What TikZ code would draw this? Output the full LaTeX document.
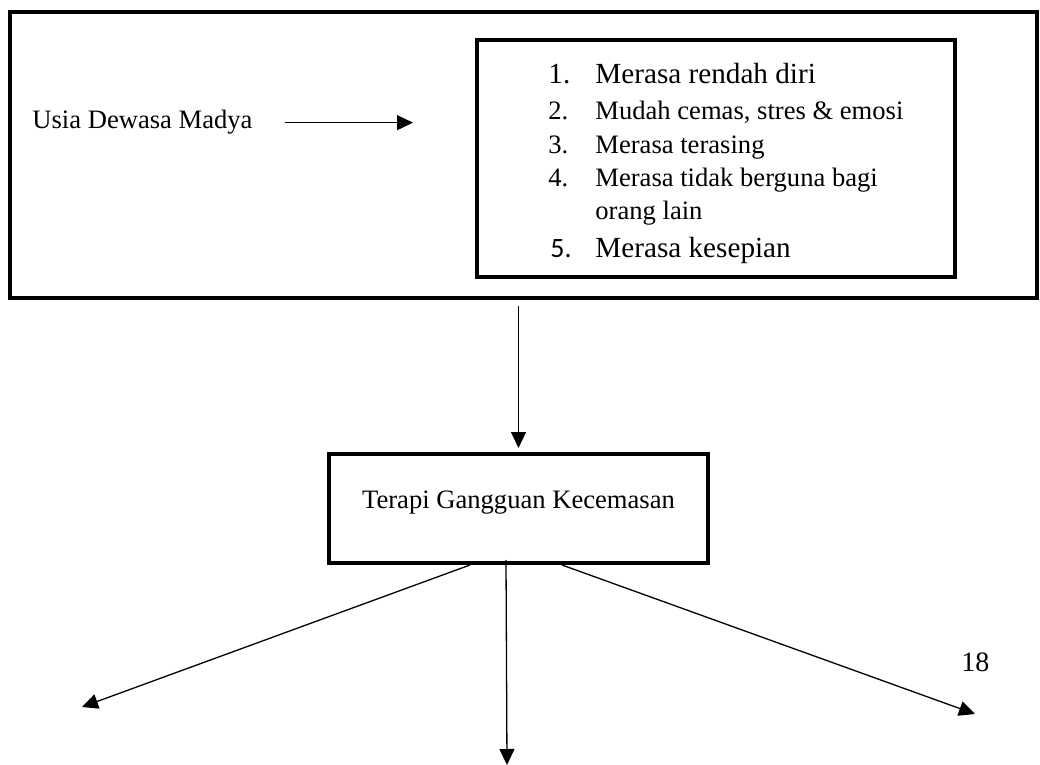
\documentclass[tikz,border=0pt]{standalone}
\usepackage{fontspec}
\setmainfont{Liberation Serif}
\newfontfamily\calibri{Carlito}
\usetikzlibrary{arrows.meta,positioning}
\newcommand{\garis}{2pt}
\newcommand{\tipis}{0.65pt}
\newcommand{\biasa}{\fontsize{13.3pt}{16pt}\selectfont}
\newcommand{\besar}{\fontsize{14.6pt}{17pt}\selectfont}

\begin{document}
\begin{tikzpicture}[x=0.5pt, y=-0.5pt]
                %\draw[help lines] (0,0) grid[step=20] (1040,765);
                \useasboundingbox (0,0) rectangle (1040,765);
                \tikzset{kotak/.style = {draw, line width=\garis, inner sep=0pt, font=\biasa},
                         tulisan/.style = {anchor=base west, inner sep=0pt, font=\biasa},
                         panah/.style = {-{Triangle[length=8pt, width=7.5pt]}, line width=\tipis}}
                \node[kotak, minimum width=513.5pt, minimum height=143pt] (bingkai) at (523.5,155) {};
                \node[kotak, minimum width=239pt, minimum height=118.5pt] (ciri) at (716,158.5) {};
                \node[kotak, minimum width=189.5pt, minimum height=54.5pt,
                      text height=9pt, text depth=9pt] (terapi) at (518.5,508.5) {Terapi Gangguan Kecemasan};
                \node[tulisan] (usia) at (32,129) {Usia Dewasa Madya};
                % daftar ciri
                \node[tulisan, font=\besar] (no1) at (548,84) {1.};
                \node[tulisan, font=\besar] (ciri1) at (595,84) {Merasa rendah diri};
                \node[tulisan] (no2) at (548,120) {2.};
                \node[tulisan] (ciri2) at (595,120) {Mudah cemas, stres \& emosi};
                \node[tulisan] (no3) at (548,154) {3.};
                \node[tulisan] (ciri3) at (595,154) {Merasa terasing};
                \node[tulisan] (no4) at (548,187) {4.};
                \node[tulisan] (ciri4) at (595,187) {Merasa tidak berguna bagi};
                \node[tulisan] (ciri4b) at (595,220) {orang lain};
                \node[tulisan, font=\calibri\fontsize{14pt}{17pt}\selectfont] (no5) at (550,257) {5.};
                \node[tulisan, font=\besar] (ciri5) at (595,257) {Merasa kesepian};
                \node[tulisan, font=\fontsize{14pt}{17pt}\selectfont] (halaman) at (961,671) {18};
                % panah
                \coordinate (ujung) at (413,123);
                \coordinate (kiri) at (82,707);
                \coordinate (tengah) at (507,765);
                \coordinate (kanan) at (975,714);
                \draw[panah] ([xshift=16pt]usia.east) -- (usia.east -| ujung);
                \draw[panah, shorten <=3pt, shorten >=2pt] (terapi.north |- bingkai.south) -- (terapi.north);
                \draw[panah] ([xshift=-24.25pt]terapi.south) -- (kiri);
                \draw[panah] ([xshift=-6.25pt, yshift=2.5pt]terapi.south) -- (tengah);
                \draw[panah] ([xshift=21.75pt]terapi.south) -- (kanan);
        \end{tikzpicture}
\end{document}
